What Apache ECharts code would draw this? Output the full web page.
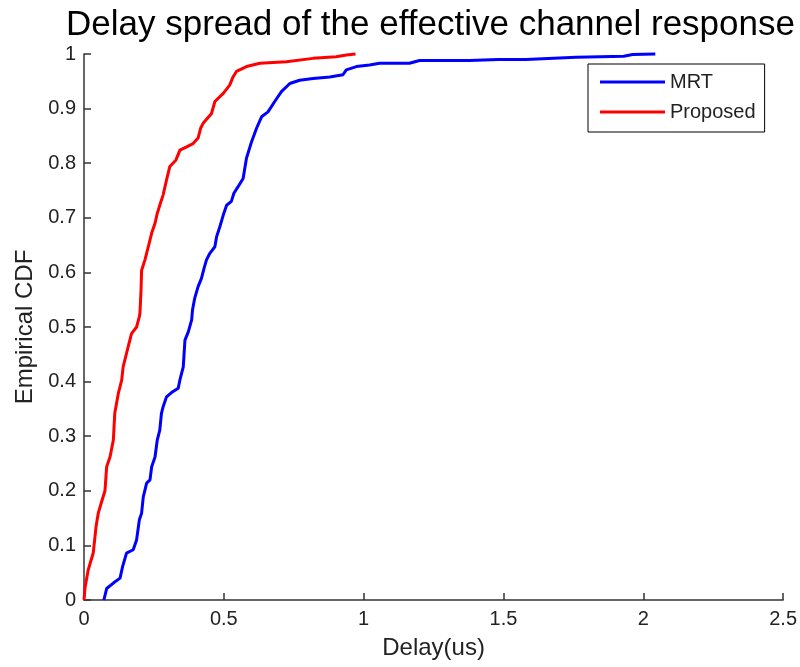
<!DOCTYPE html>
<html>
<head>
<meta charset="utf-8">
<script src="https://cdn.jsdelivr.net/npm/echarts@6/dist/echarts.min.js"></script>
<style>html,body{margin:0;padding:0;background:#fff;}#c{width:800px;height:667px;}</style>
</head>
<body>
<div id="c"></div>
<script>
const titleText = 'Delay spread of the effective channel response';
const xName = 'Delay(us)';
const yName = 'Empirical CDF';
const seriesNames = ['MRT', 'Proposed'];

const mrtDelay = [0.071,0.081,0.105,0.129,0.138,0.152,0.176,0.188,0.198,0.206,0.212,0.224,0.236,0.242,0.254,0.262,0.271,0.277,0.283,0.295,0.313,0.337,0.343,0.355,0.361,0.373,0.385,0.388,0.396,0.408,0.42,0.429,0.438,0.45,0.468,0.474,0.486,0.498,0.51,0.527,0.536,0.551,0.569,0.581,0.599,0.617,0.635,0.658,0.682,0.706,0.736,0.771,0.819,0.879,0.926,0.938,0.974,1.021,1.057,1.164,1.2,1.379,1.48,1.58,1.76,1.93,1.962,2.043];
const mrtCdf = [0,0.021,0.031,0.04,0.061,0.086,0.092,0.11,0.147,0.159,0.189,0.214,0.22,0.244,0.262,0.293,0.311,0.342,0.354,0.372,0.38,0.388,0.403,0.427,0.476,0.491,0.513,0.531,0.553,0.574,0.589,0.607,0.623,0.635,0.647,0.665,0.684,0.705,0.723,0.73,0.745,0.757,0.772,0.809,0.839,0.864,0.885,0.894,0.913,0.931,0.946,0.952,0.955,0.958,0.962,0.971,0.977,0.98,0.983,0.983,0.988,0.988,0.99,0.99,0.994,0.996,0.999,1.0];

const propDelay = [0,0.004,0.015,0.033,0.043,0.051,0.063,0.075,0.081,0.093,0.105,0.11,0.123,0.135,0.14,0.158,0.17,0.188,0.198,0.2,0.204,0.206,0.218,0.23,0.242,0.254,0.262,0.271,0.283,0.295,0.307,0.329,0.343,0.367,0.39,0.408,0.417,0.426,0.456,0.468,0.498,0.521,0.533,0.545,0.581,0.629,0.724,0.819,0.902,0.938,0.971];
const propCdf = [0,0.024,0.055,0.086,0.134,0.159,0.18,0.2,0.244,0.262,0.293,0.342,0.379,0.403,0.427,0.464,0.488,0.5,0.519,0.525,0.568,0.604,0.623,0.647,0.672,0.69,0.708,0.723,0.742,0.769,0.794,0.806,0.824,0.83,0.836,0.846,0.864,0.873,0.891,0.913,0.928,0.943,0.958,0.968,0.977,0.983,0.986,0.992,0.995,0.998,1.0];

const xTicks = [0, 0.5, 1, 1.5, 2, 2.5];
const yTicks = [0, 0.1, 0.2, 0.3, 0.4, 0.5, 0.6, 0.7, 0.8, 0.9, 1];

const pair = (xs, ys) => xs.map((x, i) => [x, ys[i]]);
const fontFam = '"Liberation Sans", Arial, Helvetica, sans-serif';
const axisCol = '#333333';
const txtCol = '#222222';

const chart = echarts.init(document.getElementById('c'), null, {renderer: 'canvas'});
chart.setOption({
  animation: false,
  backgroundColor: '#ffffff',
  title: {
    text: titleText,
    left: 61, top: 3,
    textStyle: {fontFamily: fontFam, fontSize: 35, fontWeight: 'normal', color: '#000'}
  },
  grid: {left: 84, right: 16, top: 54, bottom: 67, containLabel: false},
  legend: {
    orient: 'vertical',
    left: 588, top: 64,
    padding: [8, 9, 10, 12],
    itemGap: 10,
    itemWidth: 65, itemHeight: 3,
    icon: 'rect',
    borderColor: '#000', borderWidth: 1,
    backgroundColor: '#fff',
    textStyle: {fontFamily: fontFam, fontSize: 20, color: txtCol, lineHeight: 20},
    data: seriesNames
  },
  xAxis: {
    type: 'value',
    min: xTicks[0], max: xTicks[xTicks.length - 1], interval: 0.5,
    name: xName, nameLocation: 'middle', nameGap: 36,
    nameTextStyle: {fontFamily: fontFam, fontSize: 24, color: txtCol},
    axisLine: {show: true, lineStyle: {color: axisCol, width: 1.5}},
    axisTick: {show: true, inside: true, length: 7, lineStyle: {color: axisCol, width: 1.5}},
    axisLabel: {fontFamily: fontFam, fontSize: 20, color: txtCol, margin: 9,
      formatter: v => String(v)},
    splitLine: {show: false}
  },
  yAxis: {
    type: 'value',
    min: yTicks[0], max: yTicks[yTicks.length - 1], interval: 0.1,
    name: yName, nameLocation: 'middle', nameGap: 44, nameRotate: 90,
    nameTextStyle: {fontFamily: fontFam, fontSize: 24, color: txtCol},
    axisLine: {show: true, lineStyle: {color: axisCol, width: 1.5}},
    axisTick: {show: true, inside: true, length: 7, lineStyle: {color: axisCol, width: 1.5}},
    axisLabel: {fontFamily: fontFam, fontSize: 20, color: txtCol, margin: 8,
      formatter: v => String(Math.round(v * 10) / 10)},
    splitLine: {show: false}
  },
  series: [
    {name: seriesNames[0], type: 'line', data: pair(mrtDelay, mrtCdf), showSymbol: false, symbol: 'none',
      color: '#0000ff', lineStyle: {color: '#0000ff', width: 3}, clip: false},
    {name: seriesNames[1], type: 'line', data: pair(propDelay, propCdf), showSymbol: false, symbol: 'none',
      color: '#ff0000', lineStyle: {color: '#ff0000', width: 3}, clip: false}
  ]
});
</script>
</body>
</html>
